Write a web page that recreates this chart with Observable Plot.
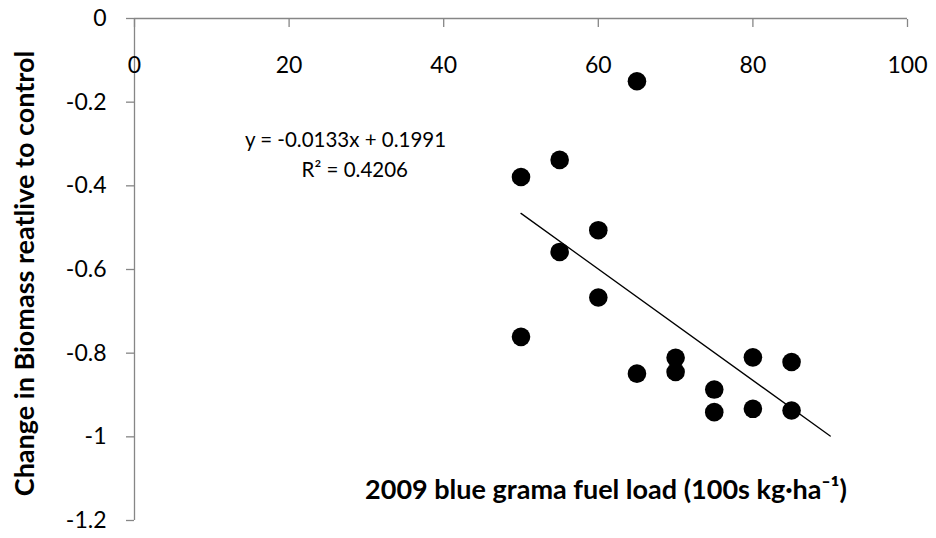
<!DOCTYPE html>
<html>
<head>
<meta charset="utf-8">
<script src="https://cdn.jsdelivr.net/npm/d3@7"></script>
<script src="https://cdn.jsdelivr.net/npm/@observablehq/plot@0.6"></script>
<style>
  html, body { margin: 0; padding: 0; background: #fff; }
  #chart svg { display: block; }
</style>
</head>
<body>
<div id="chart"></div>
<script>
// Data
const fuelLoad = [65, 55, 50, 60, 55, 60, 50, 65, 70, 70, 75, 75, 80, 80, 85, 85];
const biomassChange = [-0.150, -0.338, -0.379, -0.506, -0.558, -0.667, -0.761, -0.849, -0.811, -0.845, -0.887, -0.941, -0.810, -0.933, -0.821, -0.937];
const trendX = [50, 90];
const trendY = [-0.4659, -0.998];
const xTicks = [0, 20, 40, 60, 80, 100];
const xTickLabels = ["0", "20", "40", "60", "80", "100"];
const yTicks = [0, -0.2, -0.4, -0.6, -0.8, -1, -1.2];
const yTickLabels = ["0", "-0.2", "-0.4", "-0.6", "-0.8", "-1", "-1.2"];
const equationText = "y = -0.0133x + 0.1991";
const r2Text = "R² = 0.4206";
const xTitle = "2009 blue grama fuel load (100s kg·ha⁻¹)";
const yTitle = "Change in Biomass reatlive to control";

const points = fuelLoad.map((x, i) => ({x, y: biomassChange[i]}));
const trend = trendX.map((x, i) => ({x, y: trendY[i]}));
const xTickData = xTicks.map((v, i) => ({v, label: xTickLabels[i]}));

const axisColor = "#868686";
const font = "Lato, 'Open Sans', sans-serif";

const chart = Plot.plot({
  width: 936,
  height: 538,
  marginTop: 18,
  marginLeft: 134,
  marginRight: 29,
  marginBottom: 18,
  style: {fontFamily: font, background: "#fff", color: "#000"},
  x: {domain: [0, 100], axis: null},
  y: {domain: [-1.2, 0], axis: null},
  marks: [
    Plot.ruleY([0], {stroke: axisColor, strokeWidth: 1.3}),
    Plot.ruleX([0], {stroke: axisColor, strokeWidth: 1.3}),
    Plot.axisX({anchor: "top", ticks: xTicks, tickSize: -8, stroke: axisColor, strokeWidth: 1.3, tickFormat: () => "", label: null}),
    Plot.text(xTickData, {x: "v", y: 0, text: "label", dy: 47, fontSize: 23, fill: "#000", lineAnchor: "middle"}),
    Plot.axisY({anchor: "left", ticks: yTicks, tickSize: 8, tickPadding: 20, stroke: axisColor, strokeWidth: 1.3,
      tickFormat: (d, i) => yTickLabels[i], fontSize: 23, fill: "#000", label: null}),
    Plot.line(trend, {x: "x", y: "y", stroke: "#000", strokeWidth: 1.3}),
    Plot.dot(points, {x: "x", y: "y", r: 9.3, fill: "#000", stroke: null}),
    Plot.text([equationText], {x: 27.3, y: -0.292, text: d => d, fontSize: 20.5, fill: "#000", lineAnchor: "middle"}),
    Plot.text([r2Text], {x: 28.5, y: -0.364, text: d => d, fontSize: 20.5, fill: "#000", lineAnchor: "middle"}),
    Plot.text([xTitle], {x: 61, y: -1.127, text: d => d, fontSize: 27, fontWeight: "bold", fill: "#000", lineAnchor: "middle"}),
    Plot.text([yTitle], {frameAnchor: "left", rotate: -90, dx: -109, dy: 4, text: d => d, fontSize: 27, fontWeight: "bold", fill: "#000", textAnchor: "middle", lineAnchor: "middle"})
  ]
});

document.getElementById("chart").appendChild(chart);
</script>
</body>
</html>
